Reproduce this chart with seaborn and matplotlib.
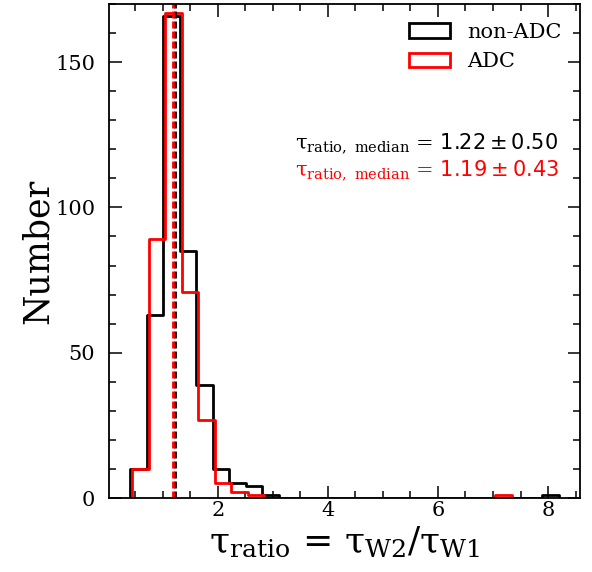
import numpy as np
import pandas as pd
import matplotlib
matplotlib.use("Agg")
import matplotlib.pyplot as plt
import seaborn as sns
from matplotlib.patches import Patch
from matplotlib.ticker import MultipleLocator

# ---- data ----
black_min, black_max, black_nbins = 0.414, 8.197, 26
black_counts = [10, 63, 166, 85, 39, 10, 5, 4, 1,
                0, 0, 0, 0, 0, 0, 0, 0, 0, 0, 0, 0, 0, 0, 0, 0,
                1]
red_min, red_max, red_nbins = 0.445, 7.345, 23
red_counts = [10, 89, 167, 71, 27, 5, 2, 1,
              0, 0, 0, 0, 0, 0, 0, 0, 0, 0, 0, 0, 0, 0,
              1]
median_black, err_black = 1.22, 0.50
median_red, err_red = 1.19, 0.43
labels = ["non-ADC", "ADC"]
colors = ["black", "red"]

sns.set_theme(style="ticks")
plt.rcParams["font.family"] = ["DejaVu Serif"]
plt.rcParams["mathtext.fontset"] = "dejavusans"
plt.rcParams["text.color"] = "black"
plt.rcParams["axes.labelcolor"] = "black"

fig = plt.figure(figsize=(5.92, 5.72), dpi=100)
ax = fig.add_axes([109 / 592, 1 - 498 / 572, 471 / 592, 494 / 572])

eps = 1e-6
for (lo, hi, nb, counts, col) in [
    (black_min, black_max, black_nbins, black_counts, "black"),
    (red_min, red_max, red_nbins, red_counts, "red"),
]:
    edges = np.linspace(lo, hi, nb + 1)
    centers = 0.5 * (edges[:-1] + edges[1:])
    # tiny empty bins at both ends so the step outline drops to the baseline
    full_edges = np.concatenate([[edges[0] - eps], edges, [edges[-1] + eps]]).tolist()
    df = pd.DataFrame({"x": centers, "w": counts})
    sns.histplot(data=df, x="x", weights="w", bins=full_edges, element="step",
                 fill=False, color=col, linewidth=2, ax=ax)

ax.axvline(median_black, color="black", lw=2, dashes=(2.5, 1.1))
ax.axvline(median_red, color="red", lw=2, dashes=(2.5, 1.1))

ax.set_xlim(0.025, 8.58)
ax.set_ylim(0, 170)
ax.xaxis.set_major_locator(MultipleLocator(2))
ax.xaxis.set_minor_locator(MultipleLocator(0.5))
ax.yaxis.set_major_locator(MultipleLocator(50))
ax.yaxis.set_minor_locator(MultipleLocator(10))
ax.tick_params(which="both", direction="in", top=True, right=True,
               labelsize=15, width=1.1, colors="black")
ax.tick_params(which="major", length=9)
ax.tick_params(which="minor", length=5)
ax.tick_params(axis="x", which="major", pad=2)
ax.tick_params(axis="y", which="major", pad=10)
for s in ax.spines.values():
    s.set_linewidth(1.3)
    s.set_color("black")

ax.set_xlabel(r"$\mathregular{\tau_{ratio}}$ = $\mathregular{\tau_{W2}/\tau_{W1}}$",
              fontsize=26, labelpad=3, color="black")
ax.set_ylabel("Number", fontsize=25, labelpad=0.5, color="black")

ax.text(0.395, 0.719,
        r"$\mathregular{\tau_{ratio,\ median}}$ = $%.2f \pm %.2f$" % (median_black, err_black),
        transform=ax.transAxes, ha="left", va="center", fontsize=15, color="black")
ax.text(0.395, 0.664,
        r"$\mathregular{\tau_{ratio,\ median}}$ = $%.2f \pm %.2f$" % (median_red, err_red),
        transform=ax.transAxes, ha="left", va="center", fontsize=15, color="red")

handles = [Patch(facecolor="none", edgecolor=c, linewidth=2) for c in colors]
leg = ax.legend(handles, labels, loc="upper right", frameon=False, fontsize=15)
for t in leg.get_texts():
    t.set_color("black")

fig.savefig("out.png", dpi=100)
